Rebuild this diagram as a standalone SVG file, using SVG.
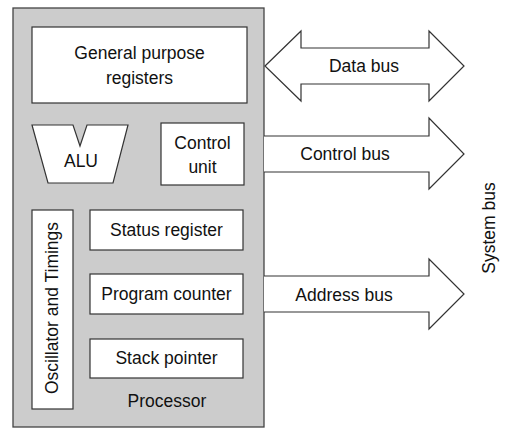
<svg xmlns="http://www.w3.org/2000/svg" width="509" height="441" viewBox="0 0 509 441">
<style>
text{font-family:"Liberation Sans",Arial,sans-serif;font-size:17.5px;fill:#111;text-anchor:middle}
.box{fill:#fff;stroke:#333;stroke-width:1.2}
.proc{fill:#cccccc;stroke:#444;stroke-width:1.3}
.bus{fill:#fff;stroke:#333;stroke-width:1.2;stroke-linejoin:miter}
</style>
<rect width="509" height="441" fill="#fff"/>
<g id="processor">
<rect class="proc" x="13" y="8" width="251" height="419"/>
<text x="167" y="407">Processor</text>
</g>
<g id="gpr">
<rect class="box" x="32" y="27" width="215" height="76"/>
<text x="139.5" y="59">General purpose</text>
<text x="139.5" y="84">registers</text>
</g>
<g id="alu">
<polygon class="box" points="32,125 73,125 80,146 87,125 128,125 113,183 48,183"/>
<text x="81" y="167">ALU</text>
</g>
<g id="control-unit">
<rect class="box" x="161" y="123" width="83" height="62"/>
<text x="202.5" y="149">Control</text>
<text x="202.5" y="173">unit</text>
</g>
<g id="oscillator">
<rect class="box" x="32" y="210" width="41" height="199"/>
<text transform="translate(58,308) rotate(-90)">Oscillator and Timings</text>
</g>
<g id="status-register">
<rect class="box" x="90" y="210" width="153" height="40"/>
<text x="166.5" y="236">Status register</text>
</g>
<g id="program-counter">
<rect class="box" x="90" y="274" width="153" height="40"/>
<text x="166.5" y="300">Program counter</text>
</g>
<g id="stack-pointer">
<rect class="box" x="90" y="339" width="153" height="39"/>
<text x="166.5" y="364">Stack pointer</text>
</g>
<g id="connectors">
<polygon class="bus" points="265,66 301,31 301,48 429,48 429,31 464,66 429,101 429,84 301,84 301,101"/>
<polyline class="bus" points="264,136 429,136 429,118 464,154 429,189 429,172 264,172"/>
<polyline class="bus" points="264,276 429,276 429,259 464,294 429,329 429,312 264,312"/>
<text x="364" y="72">Data bus</text>
<text x="345" y="160">Control bus</text>
<text x="344" y="301">Address bus</text>
</g>
<g id="system-bus">
<text transform="translate(495,228) rotate(-90)">System bus</text>
</g>
</svg>
